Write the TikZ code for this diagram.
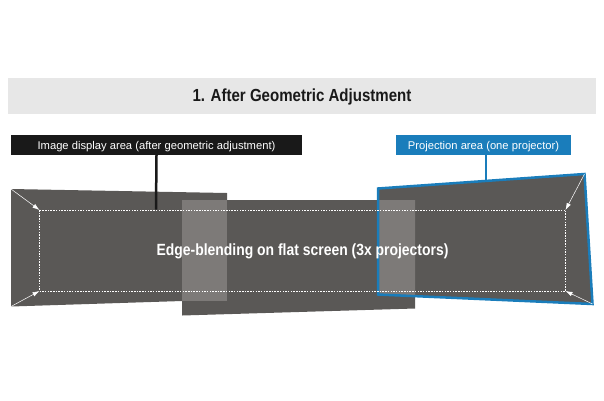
\documentclass[tikz,border=0pt]{standalone}
\usepackage{fontspec}
\setmainfont{Liberation Sans}
\newfontfamily\narrowbold[FakeStretch=0.86]{Liberation Sans Bold}
\usepackage{tikz}
\usetikzlibrary{arrows.meta}
\definecolor{panelgrey}{HTML}{5A5856}
\definecolor{blendgrey}{HTML}{7D7A78}
\definecolor{titlegrey}{HTML}{E7E7E7}
\definecolor{labelblue}{HTML}{1A7DBB}
\tikzset{
  panel/.style={fill=panelgrey},
  blend/.style={fill=blendgrey},
  labelbox/.style={minimum height=20pt, inner sep=0pt, text height=9pt, text depth=1pt, text=white, font=\fontsize{11.2}{13}\selectfont},
  cornerarrow/.style={draw=white, line width=0.5pt, -{Latex[length=7pt,width=4.5pt]}}
}

\begin{document}
\begin{tikzpicture}[x=1pt, y=-1pt]
  \useasboundingbox (0,0) rectangle (604,400);
  % title band
  \node[fill=titlegrey, minimum width=588pt, minimum height=36pt, inner sep=0pt, text height=13pt, text depth=2pt, text=black!90,
    font=\narrowbold\fontsize{17.5}{20}\selectfont] (titleband) at (302,96) {1. After Geometric Adjustment};
  % corners of the projection areas
  \coordinate (lefttl) at (11,189);
  \coordinate (leftbl) at (11,306.5);
  \coordinate (righttr) at (584.5,174);
  \coordinate (rightbr) at (592.5,304);
  \coordinate (righttl) at (378,188.5);
  \coordinate (rightbl) at (378,294.5);
  % corners of the display area
  \coordinate (disptl) at (39.5,210);
  \coordinate (disptr) at (565.5,210);
  \coordinate (dispbr) at (565.5,291);
  \coordinate (dispbl) at (39.5,291);
  \coordinate (disptop) at (156,209.5);
  \coordinate (projtop) at (486,180.5);
  % projected panels
  \fill[panel] (lefttl) -- (227,193) -- (227,301) -- (182,301) -- (leftbl) -- cycle;
  \fill[panel] (182,200) -- (415,200) -- (415,308.5) -- (182,315.5) -- cycle;
  \fill[panel] (righttl) -- (righttr) -- (rightbr) -- (rightbl) -- cycle;
  % overlaps
  \fill[blend] (182,200) rectangle (227,301);
  \fill[blend] (378,200) -- (415,200) -- (415,296) -- (378,294.5) -- cycle;
  % labels
  \node[labelbox, fill=black!90, minimum width=291pt] (imagelabel) at (156.5,145) {Image display area (after geometric adjustment)};
  \node[labelbox, fill=labelblue, minimum width=175pt] (projlabel) at (483.5,145) {Projection area (one projector)};
  \draw[black!90, line width=2.5pt] (imagelabel.south) -- (disptop);
  \draw[labelblue, line width=2.5pt] (projtop |- projlabel.south) -- (projtop);
  \draw[labelblue, line width=2.5pt, line join=miter] (righttl) -- (righttr) -- (rightbr) -- (rightbl) -- cycle;
  % display area
  \draw[white, line width=1pt, dash pattern=on 1.5pt off 1.2pt] (disptl) rectangle (dispbr);
  \draw[cornerarrow] (lefttl) -- (disptl);
  \draw[cornerarrow] (leftbl) -- (dispbl);
  \draw[cornerarrow] (righttr) -- (disptr);
  \draw[cornerarrow] (rightbr) -- (dispbr);
  \node[text=white, inner sep=0pt, font=\narrowbold\fontsize{16.2}{19}\selectfont] (screenlabel) at (302.5,251) {Edge-blending on flat screen (3x projectors)};
\end{tikzpicture}
\end{document}
